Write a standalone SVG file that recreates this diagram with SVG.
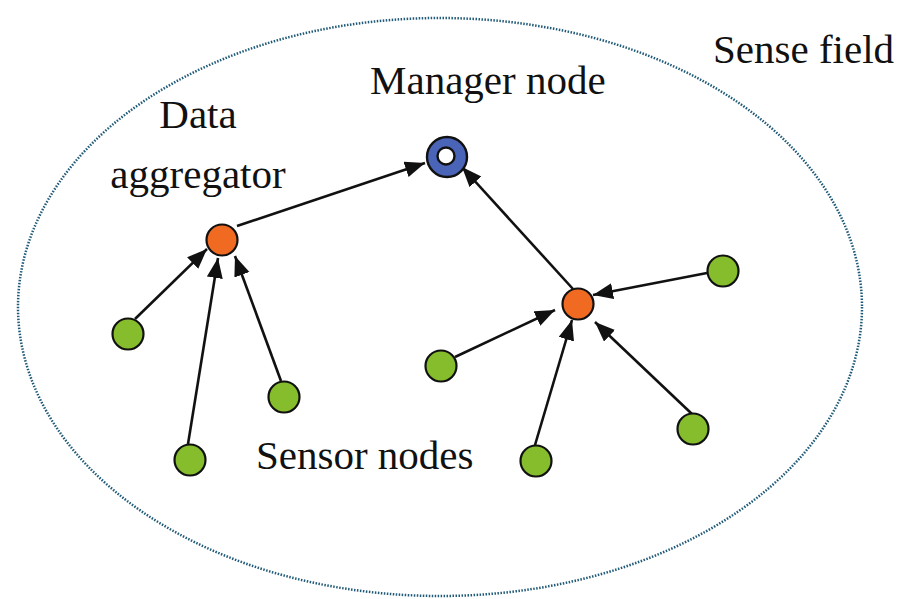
<svg xmlns="http://www.w3.org/2000/svg" width="901" height="599" viewBox="0 0 901 599">
<defs>
<style>
.lbl{font-family:"Liberation Serif","Times New Roman",serif;font-size:41px;fill:#111;}
.field{fill:none;stroke:#1f5a78;stroke-width:2.5;stroke-dasharray:1.5 1.5;}
.sensor{fill:#86bd2c;stroke:#111;stroke-width:2.2;}
.agg{fill:#f06a22;stroke:#111;stroke-width:2.2;}
.mgr{fill:#4a64b8;stroke:#111;stroke-width:2.4;}
.hole{fill:#fff;stroke:#111;stroke-width:2.4;}
.edge{stroke:#111;stroke-width:2.6;fill:none;marker-end:url(#ah);}
</style>
<marker id="ah" markerUnits="userSpaceOnUse" markerWidth="21" markerHeight="17" refX="20" refY="8" orient="auto">
<path d="M0,0 L20,8 L0,16 z" fill="#111"/>
</marker>
</defs>
<rect width="901" height="599" fill="#fff"/>
<ellipse id="sense-field" class="field" cx="440" cy="307" rx="422" ry="289"/>
<g id="connectors">
<line class="edge" x1="237" y1="226" x2="425" y2="163"/>
<line class="edge" x1="135" y1="319" x2="207" y2="249"/>
<line class="edge" x1="188" y1="444" x2="218" y2="258"/>
<line class="edge" x1="281" y1="381" x2="235" y2="256"/>
<line class="edge" x1="573" y1="289" x2="462" y2="167"/>
<line class="edge" x1="707" y1="273" x2="593" y2="295"/>
<line class="edge" x1="455" y1="357" x2="555" y2="310"/>
<line class="edge" x1="535" y1="445" x2="572" y2="320"/>
<line class="edge" x1="692" y1="414" x2="595" y2="322"/>
</g>
<g id="manager"><circle class="mgr" cx="447" cy="157" r="20"/><circle class="hole" cx="446" cy="156" r="8.5"/></g>
<g id="agg-left"><circle class="agg" cx="222" cy="240" r="15.5"/></g>
<g id="agg-right"><circle class="agg" cx="578" cy="304" r="15.5"/></g>
<g id="s1"><circle class="sensor" cx="128" cy="334" r="15.5"/></g>
<g id="s2"><circle class="sensor" cx="190" cy="460" r="15.5"/></g>
<g id="s3"><circle class="sensor" cx="284" cy="397" r="15.5"/></g>
<g id="s4"><circle class="sensor" cx="441" cy="366" r="15.5"/></g>
<g id="s5"><circle class="sensor" cx="536" cy="461" r="15.5"/></g>
<g id="s6"><circle class="sensor" cx="693" cy="429" r="15.5"/></g>
<g id="s7"><circle class="sensor" cx="723" cy="271" r="15.5"/></g>
<g id="labels">
<text class="lbl" x="713" y="63">Sense field</text>
<text class="lbl" x="370" y="94">Manager node</text>
<text class="lbl" x="198" y="128" text-anchor="middle">Data</text>
<text class="lbl" x="198" y="188" text-anchor="middle">aggregator</text>
<text class="lbl" x="256" y="469">Sensor nodes</text>
</g>
</svg>
